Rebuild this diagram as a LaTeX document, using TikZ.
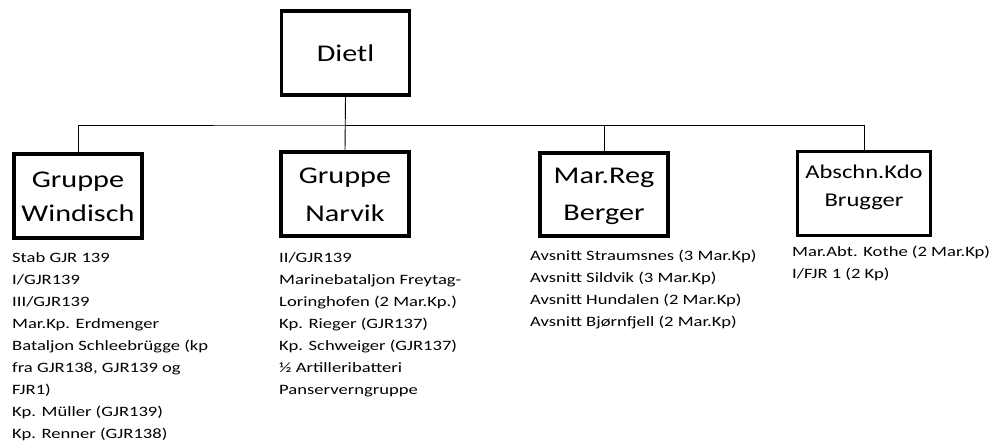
\documentclass[tikz,border=0pt]{standalone}
\usepackage{fontspec}
\setmainfont{Carlito}[FakeStretch=1.26]
\newfontfamily\listfont{Carlito}[FakeStretch=1.3]
\begin{document}
\begin{tikzpicture}[x=1pt,y=-1pt,
  unit/.style={draw=black,line width=3.2pt,minimum width=128pt,minimum height=82pt,inner sep=0pt,align=center,font=\fontsize{24}{34}\selectfont},
  list/.style={anchor=north west,align=left,inner sep=0pt,font=\listfont\fontsize{14.3}{22}\selectfont},
  conn/.style={draw=black,line width=0.9pt}]
\useasboundingbox (0,0) rectangle (992,445);
\node[unit,minimum width=128pt,minimum height=84pt] (dietl) at (345.5,53) {Dietl};
\node[unit,minimum height=84pt] (windisch) at (78,196) {\raisebox{-7.5pt}[0pt][0pt]{\begin{tabular}{@{}c@{}}Gruppe\\Windisch\end{tabular}}};
\node[unit,minimum height=84pt] (narvik) at (345,194) {\raisebox{-7pt}[0pt][0pt]{\fontsize{24}{38}\selectfont\begin{tabular}{@{}c@{}}Gruppe\\Narvik\end{tabular}}};
\node[unit,minimum height=83pt] (marreg) at (604,194.5) {\raisebox{-6pt}[0pt][0pt]{\fontsize{24}{37}\selectfont\begin{tabular}{@{}c@{}}Mar.Reg\\Berger\end{tabular}}};
\node[unit,minimum width=133pt,minimum height=84pt] (abschn) at (864,193.5) {\raisebox{1.5pt}[0pt][0pt]{\fontsize{19.5}{28}\selectfont\begin{tabular}{@{}c@{}}Abschn.Kdo\\Brugger\end{tabular}}};
\coordinate (bar) at (345.5,125);
\draw[conn] (dietl.south) -- (narvik.north);
\draw[conn] (windisch.north) |- (bar) -| (abschn.north);
\draw[conn] (bar) -| (marreg.north);
\node[list] (wlist) at (12,252) {Stab GJR 139\\I/GJR139\\III/GJR139\\Mar.Kp. Erdmenger\\Bataljon Schleebrügge (kp\\fra GJR138, GJR139 og\\FJR1)\\Kp. Müller (GJR139)\\Kp. Renner (GJR138)};
\node[list] (nlist) at (279,252) {II/GJR139\\Marinebataljon Freytag-\\Loringhofen (2 Mar.Kp.)\\Kp. Rieger (GJR137)\\Kp. Schweiger (GJR137)\\½ Artilleribatteri\\Panserverngruppe};
\node[list] (mlist) at (530,250) {Avsnitt Straumsnes (3 Mar.Kp)\\Avsnitt Sildvik (3 Mar.Kp)\\Avsnitt Hundalen (2 Mar.Kp)\\Avsnitt Bjørnfjell (2 Mar.Kp)};
\node[list] (alist) at (792,246) {Mar.Abt. Kothe (2 Mar.Kp)\\I/FJR 1 (2 Kp)};
\end{tikzpicture}
\end{document}
